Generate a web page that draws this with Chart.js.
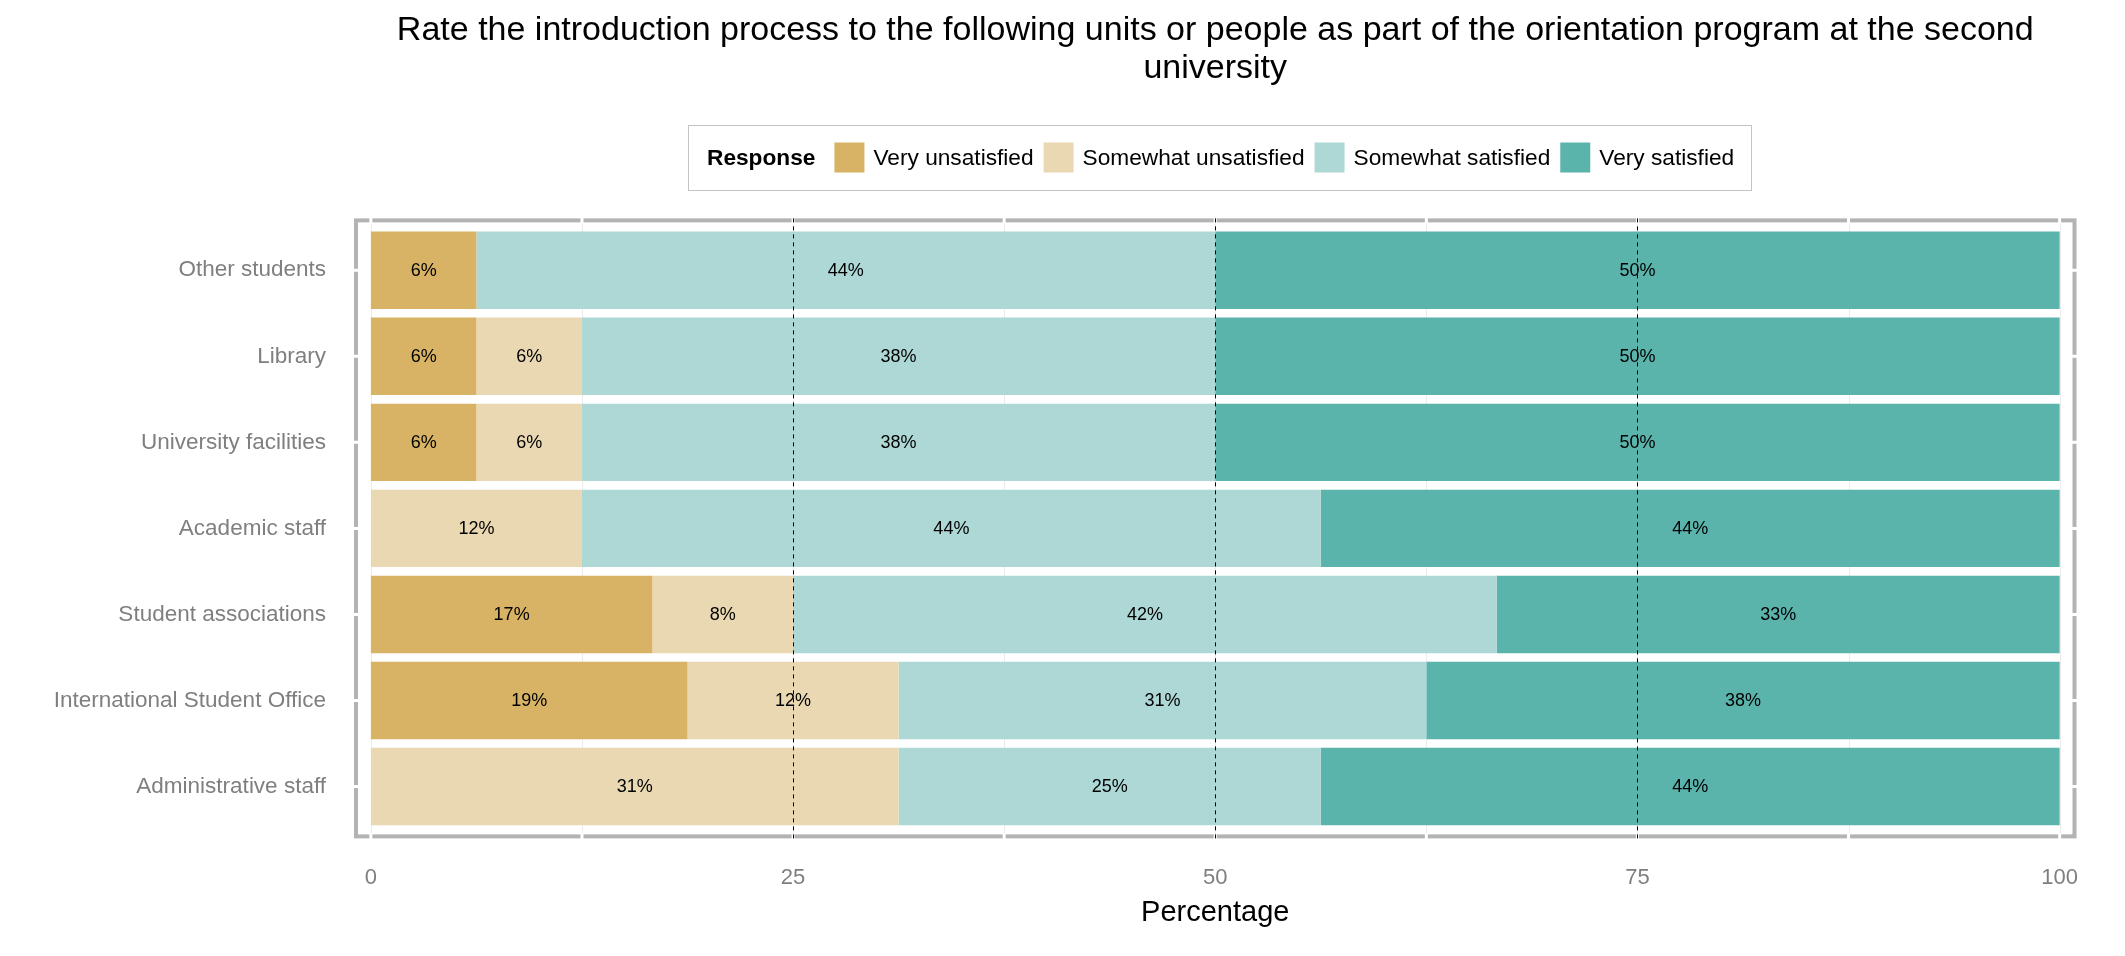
<!DOCTYPE html>
<html lang="en">
<head>
<meta charset="UTF-8" />
<title>Orientation program ratings</title>
<script src="https://cdn.jsdelivr.net/npm/chart.js@4.4.1/dist/chart.umd.min.js"></script>
<style>
  html, body { margin: 0; padding: 0; background: #fff; }
  canvas { display: block; }
</style>
</head>
<body>
<canvas id="myChart" width="2125" height="956"></canvas>
<script>
// chart data
const categories = ['Other students', 'Library', 'University facilities', 'Academic staff',
  'Student associations', 'International Student Office', 'Administrative staff'];
const responses = ['Very unsatisfied', 'Somewhat unsatisfied', 'Somewhat satisfied', 'Very satisfied'];
const veryUnsatisfied = [6.25, 6.25, 6.25, 0, 16.67, 18.75, 0];
const somewhatUnsatisfied = [0, 6.25, 6.25, 12.5, 8.33, 12.5, 31.25];
const somewhatSatisfied = [43.75, 37.5, 37.5, 43.75, 41.67, 31.25, 25];
const verySatisfied = [50, 50, 50, 43.75, 33.33, 37.5, 43.75];
const xTicks = [0, 12.5, 25, 37.5, 50, 62.5, 75, 87.5, 100];
const refLines = [25, 50, 75];
const colors = ['#D8B365', '#EAD8B2', '#ADD8D5', '#5AB4AC'];

const FONT = "'Liberation Sans', Arial, sans-serif";
Chart.defaults.font.family = FONT;

// R style rounding (half to even) for the bar labels
function roundEven(v) {
  const f = Math.floor(v);
  const d = v - f;
  if (Math.abs(d - 0.5) < 1e-9) return f % 2 === 0 ? f : f + 1;
  return Math.round(v);
}

function panelRect(chart) {
  const a = chart.chartArea;
  const band = (a.bottom - a.top) / categories.length;
  const ext = band * 0.08;
  return { left: a.left, right: a.right, top: a.top - ext, bottom: a.bottom + ext };
}

// grid under the bars, border/labels/reference lines on top
const panel = {
  id: 'panel',
  beforeDatasetsDraw(chart) {
    const { ctx } = chart;
    const x = chart.scales.x;
    const p = panelRect(chart);
    ctx.save();
    ctx.strokeStyle = '#ebebeb';
    ctx.lineWidth = 1;
    xTicks.forEach(v => {
      const px = Math.round(x.getPixelForValue(v)) + 0.5;
      ctx.beginPath();
      ctx.moveTo(px, p.top);
      ctx.lineTo(px, p.bottom);
      ctx.stroke();
    });
    ctx.restore();
  },
  afterDatasetsDraw(chart) {
    const { ctx } = chart;
    const x = chart.scales.x;
    const y = chart.scales.y;
    const p = panelRect(chart);
    ctx.save();

    // segment labels
    ctx.fillStyle = '#000';
    ctx.font = '18px ' + FONT;
    ctx.textAlign = 'center';
    ctx.textBaseline = 'middle';
    chart.data.datasets.forEach((ds, i) => {
      const meta = chart.getDatasetMeta(i);
      ds.data.forEach((v, j) => {
        if (!v) return;
        const bar = meta.data[j];
        ctx.fillText(roundEven(v) + '%', (bar.x + bar.base) / 2, bar.y + 1);
      });
    });

    // panel border
    ctx.strokeStyle = '#b3b3b3';
    ctx.lineWidth = 4;
    ctx.strokeRect(p.left, p.top, p.right - p.left, p.bottom - p.top);

    // white tick notches through the border
    ctx.strokeStyle = '#fff';
    ctx.lineWidth = 3;
    xTicks.forEach(v => {
      const px = x.getPixelForValue(v);
      ctx.beginPath();
      ctx.moveTo(px, p.top - 3); ctx.lineTo(px, p.top + 3);
      ctx.moveTo(px, p.bottom - 3); ctx.lineTo(px, p.bottom + 3);
      ctx.stroke();
    });
    categories.forEach((c, j) => {
      const py = y.getPixelForValue(j);
      ctx.beginPath();
      ctx.moveTo(p.left - 3, py); ctx.lineTo(p.left + 3, py);
      ctx.moveTo(p.right - 3, py); ctx.lineTo(p.right + 3, py);
      ctx.stroke();
    });

    // dashed reference lines
    ctx.strokeStyle = '#000';
    ctx.lineWidth = 1;
    ctx.setLineDash([4, 4]);
    refLines.forEach(v => {
      const px = Math.round(x.getPixelForValue(v)) + 0.5;
      ctx.beginPath();
      ctx.moveTo(px, p.top - 2);
      ctx.lineTo(px, p.bottom + 2);
      ctx.stroke();
    });
    ctx.restore();
  }
};

// horizontal legend with the title on the left, inside a box
const legendBox = {
  id: 'legendBox',
  afterDraw(chart) {
    const { ctx, chartArea } = chart;
    const size = 22.7;
    ctx.save();
    ctx.font = 'bold ' + size + 'px ' + FONT;
    const headW = ctx.measureText('Response').width;
    ctx.font = size + 'px ' + FONT;
    const widths = responses.map(r => ctx.measureText(r).width);
    const padL = 19, padR = 17, headGap = 19, key = 30, keyGap = 9, itemGap = 10;
    let total = padL + headW + padR;
    widths.forEach((w, i) => { total += (i === 0 ? headGap : itemGap) + key + keyGap + w; });
    const cx = (chartArea.left + chartArea.right) / 2 + 4;
    const left = Math.round(cx - total / 2);
    const top = 125, h = 65, mid = top + h / 2;

    ctx.strokeStyle = '#c4c4c4';
    ctx.lineWidth = 1;
    ctx.strokeRect(left + 0.5, top + 0.5, Math.round(total), h);

    ctx.fillStyle = '#000';
    ctx.textBaseline = 'middle';
    ctx.textAlign = 'left';
    ctx.font = 'bold ' + size + 'px ' + FONT;
    let cur = left + padL;
    ctx.fillText('Response', cur, mid + 1);
    cur += headW;
    ctx.font = size + 'px ' + FONT;
    responses.forEach((r, i) => {
      cur += i === 0 ? headGap : itemGap;
      ctx.fillStyle = colors[i];
      ctx.fillRect(cur, mid - key / 2, key, key);
      cur += key + keyGap;
      ctx.fillStyle = '#000';
      ctx.fillText(r, cur, mid + 1);
      cur += widths[i];
    });
    ctx.restore();
  }
};

const ctx = document.getElementById('myChart').getContext('2d');
const myChart = new Chart(ctx, {
  type: 'bar',
  data: {
    labels: categories,
    datasets: [veryUnsatisfied, somewhatUnsatisfied, somewhatSatisfied, verySatisfied].map((d, i) => ({
      label: responses[i],
      data: d,
      backgroundColor: colors[i],
      borderWidth: 0,
      barPercentage: 0.9,
      categoryPercentage: 1.0
    }))
  },
  options: {
    responsive: false,
    animation: false,
    devicePixelRatio: 1,
    indexAxis: 'y',
    layout: { padding: { left: 0, right: 50.5, top: 0, bottom: 0 } },
    scales: {
      x: {
        stacked: true,
        min: -0.88,
        max: 100.88,
        grid: { display: false },
        border: { display: false },
        afterBuildTicks: s => { s.ticks = xTicks.map(v => ({ value: v })); },
        afterFit: s => { s.height = 126.5; },
        ticks: {
          padding: 27,
          color: '#7f7f7f',
          font: { size: 22 },
          autoSkip: false,
          maxRotation: 0,
          callback: v => (v % 25 === 0 ? String(v) : '')
        },
        title: {
          display: true,
          text: 'Percentage',
          color: '#000',
          font: { size: 29 },
          padding: { top: 0, bottom: 26 }
        }
      },
      y: {
        stacked: true,
        grid: { display: false },
        border: { display: false },
        afterFit: s => { s.width = 356; },
        ticks: { padding: 22, color: '#7f7f7f', font: { size: 22.5 } }
      }
    },
    plugins: {
      legend: { display: false },
      tooltip: { enabled: false },
      title: {
        display: true,
        fullSize: false,
        text: ['Rate the introduction process to the following units or people as part of the orientation program at the second', 'university'],
        color: '#000',
        font: { size: 34, weight: 'normal', lineHeight: 1.12 },
        padding: { top: 12, bottom: 139.1 }
      }
    }
  },
  plugins: [panel, legendBox]
});
</script>
</body>
</html>
